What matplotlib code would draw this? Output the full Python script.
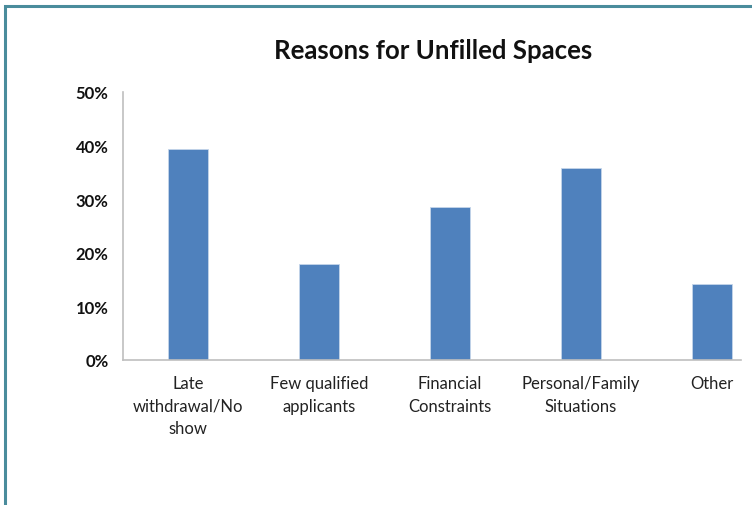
import matplotlib
matplotlib.use('Agg')
import matplotlib.pyplot as plt
from matplotlib.patches import Rectangle
from matplotlib.ticker import PercentFormatter

# Chart data
categories = ['Late\nwithdrawal/No\nshow', 'Few qualified\napplicants', 'Financial\nConstraints',
              'Personal/Family\nSituations', 'Other']
shares = [39.4, 17.9, 28.6, 35.8, 14.2]  # percent
yticks = [0, 10, 20, 30, 40, 50]

plt.rcParams['font.family'] = ['Lato', 'DejaVu Sans']

fig = plt.figure(figsize=(7.52, 5.06), dpi=100)
ax = fig.add_axes([0.163, 0.2866, 0.822, 0.530])

x = range(len(categories))
ax.bar(x, shares, width=0.31, color='#4F81BD', edgecolor='#C5D5EA', linewidth=0.6)

ax.set_xlim(-0.5, 4.22)
ax.set_ylim(0, 50)
ax.set_yticks(yticks)
ax.yaxis.set_major_formatter(PercentFormatter(decimals=0))
ax.set_xticks(list(x))
ax.set_xticklabels(categories, fontsize=12, linespacing=1.5, color='#222222')
for lbl in ax.get_yticklabels():
    lbl.set_fontweight('bold')
    lbl.set_fontsize(12)
    lbl.set_color('#111111')

ax.tick_params(axis='both', length=0)
ax.tick_params(axis='y', pad=10)
ax.tick_params(axis='x', pad=11)
for side in ['top', 'right']:
    ax.spines[side].set_visible(False)
ax.spines['left'].set_color('#BFBFBF')
ax.spines['bottom'].set_color('#BFBFBF')
ax.spines['left'].set_linewidth(1.2)
ax.spines['bottom'].set_linewidth(1.2)

fig.text(0.576, 0.9, 'Reasons for Unfilled Spaces', fontsize=18.5, fontweight='bold',
         ha='center', va='center', color='#111111')

# Frame border (cropped at right and bottom)
fig.patches.append(Rectangle((4.5 / 752, -0.1), 1.2, 1.1 - 6.5 / 506, transform=fig.transFigure,
                             fill=False, edgecolor='#4A8C9C', linewidth=2.2))

fig.savefig('out.png', dpi=100)
